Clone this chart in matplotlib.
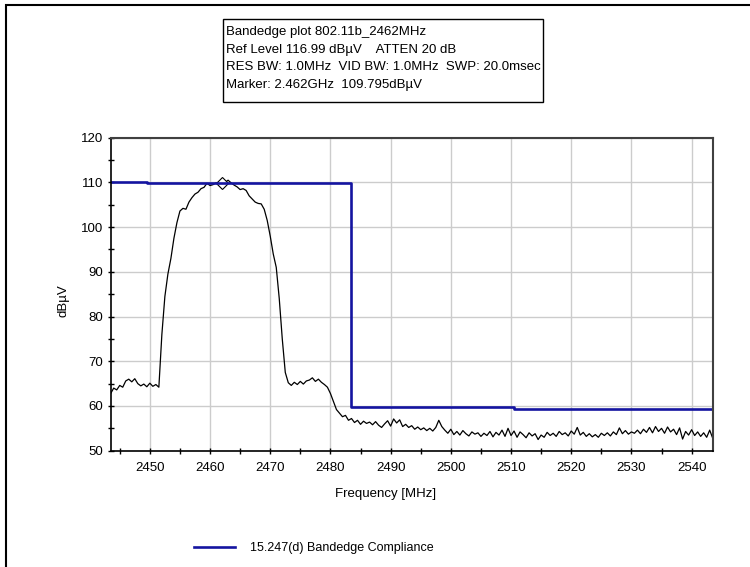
# bandedge plot 802.11b, 2462 MHz channel
import numpy as np
import matplotlib.pyplot as plt
from matplotlib.patches import Rectangle

plt.rcParams['font.family'] = ['Liberation Sans', 'DejaVu Sans']

# analyzer sweep: 2443.5 .. 2543.5 MHz, 0.5 MHz per point
f_start = 2443.5
f_stop = 2543.5
n_pts = 201

# trace level (dBuV)
trace = [
    62.8, 64.0, 63.6, 64.6, 64.2, 65.6, 66.0, 65.4, 66.1, 65.0, 64.5, 64.9,
    64.3, 65.1, 64.4, 64.8, 64.2, 76.0, 84.5, 89.5, 93.0, 97.5, 101.0, 103.6, 104.2, 104.0, 105.6, 106.6, 107.4, 107.8, 108.6, 108.9,
    109.8, 109.3, 109.5, 109.9, 109.6, 110.2, 110.0, 110.5, 109.9, 109.4, 109.0, 108.4, 108.6, 108.2, 107.0, 106.3, 105.6, 105.3, 105.2, 104.0,
    101.5, 98.0, 94.0, 91.0, 84.0, 75.0, 67.5, 65.2, 64.6, 65.3, 64.8, 65.5, 64.9, 65.6, 65.8, 66.3, 65.5, 66.0, 65.3, 64.8,
    64.2, 62.8, 61.0, 59.2, 58.4, 57.6, 57.9, 56.8, 57.2, 56.3, 56.8, 55.9, 56.6, 56.1, 56.4, 55.8, 56.5, 55.7, 55.2, 56.0,
    56.7, 55.5, 57.1, 56.2, 56.9, 55.4, 55.9, 55.2, 55.6, 54.8, 55.3, 54.7, 55.1, 54.5, 55.0, 54.4, 55.2, 56.8, 55.4, 54.6,
    53.9, 54.8, 53.6, 54.3, 53.5, 54.5, 53.8, 53.3, 54.2, 53.7, 54.0, 53.2, 53.9, 53.4, 54.3, 53.1, 54.1, 53.5, 54.6, 53.2,
    55.0, 53.4, 54.4, 53.0, 54.2, 53.6, 52.9, 54.0, 53.3, 53.8, 52.5, 53.5, 53.0, 54.1, 53.4, 53.9, 53.2, 54.3, 53.6, 54.0,
    53.3, 54.4, 53.7, 55.2, 53.5, 54.1, 53.2, 53.8, 53.1, 53.6, 53.0, 53.9, 53.4, 54.0, 53.3, 54.2, 53.6, 55.1, 53.8, 54.5,
    53.7, 54.2, 53.9, 54.6, 53.8, 54.8, 54.1, 55.2, 54.0, 55.4, 54.3, 55.0, 53.9, 55.3, 54.2, 54.8, 53.6, 55.1, 52.6, 54.3,
    53.5, 54.7, 53.4, 54.2, 53.2, 54.0, 53.0, 54.6, 52.8,
]

# 15.247(d) limit line
limit_freq = [2443.5, 2449.5, 2483.5, 2510.5, 2543.5]
limit_level = [110.1, 109.8, 59.8, 59.3, 59.3]

marker_freq = 2462.0
marker_level = 109.795

header = [
    'Bandedge plot 802.11b_2462MHz',
    'Ref Level 116.99 dB\u00b5V    ATTEN 20 dB',
    'RES BW: 1.0MHz  VID BW: 1.0MHz  SWP: 20.0msec',
    'Marker: 2.462GHz  109.795dB\u00b5V',
]

freq = np.linspace(f_start, f_stop, n_pts)

fig = plt.figure(figsize=(7.5, 5.67), dpi=100)
W, H = 750, 567
ax = fig.add_axes([110.7 / W, 1 - 450.7 / H, 602 / W, 313 / H])

ax.plot(freq, trace, color='black', lw=0.9)
ax.plot(marker_freq, marker_level, 'D', ms=6, mfc='white', mec='black', mew=0.8)
lim, = ax.plot(limit_freq, limit_level, drawstyle='steps-post',
               color='#1414a0', lw=1.9, label='15.247(d) Bandedge Compliance')

ax.set_xlim(f_start, f_stop)
ax.set_ylim(50, 120)
ax.set_xticks(np.arange(2450, 2541, 10))
ax.set_xticks(np.arange(2445, 2544, 5), minor=True)
ax.set_yticks(np.arange(50, 121, 10))
ax.set_yticks(np.arange(55, 120, 5), minor=True)
ax.grid(True, which='major', color='#cccccc', lw=1)
ax.set_axisbelow(True)
ax.tick_params(which='both', direction='inout', length=4.5, width=1, colors='black', labelsize=9.5)
ax.tick_params(axis='x', which='major', pad=6)
ax.tick_params(axis='y', which='major', pad=3)

for s in ['left', 'bottom']:
    ax.spines[s].set_color('black')
    ax.spines[s].set_linewidth(1.2)
for s in ['top', 'right']:
    ax.spines[s].set_color('#404040')
    ax.spines[s].set_linewidth(1.5)

ax.set_xlabel('Frequency [MHz]', fontsize=9.5)
ax.xaxis.set_label_coords(0.456, -0.12)
ax.set_ylabel('dB\u00b5V', fontsize=9.5)
ax.yaxis.set_label_coords(-0.069, 0.48)

# header box
fig.patches.append(Rectangle((223 / W, 1 - 102 / H), 320 / W, 83 / H, transform=fig.transFigure,
                             fill=False, edgecolor='black', lw=1))
for i, line in enumerate(header):
    fig.text(226 / W, 1 - (32 + 17.6 * i) / H, line, fontsize=9.5, va='center', ha='left')

# outer frame
fig.patches.append(Rectangle((6 / W, -0.1), 1.1, 1.1 - 5 / H, transform=fig.transFigure,
                             fill=False, edgecolor='black', lw=1.5))

fig.legend(handles=[lim], loc='center', bbox_to_anchor=(314 / W, 1 - 548 / H), frameon=False,
           fontsize=9, handlelength=3.3, handletextpad=1.2)

fig.savefig('out.png', dpi=100)
